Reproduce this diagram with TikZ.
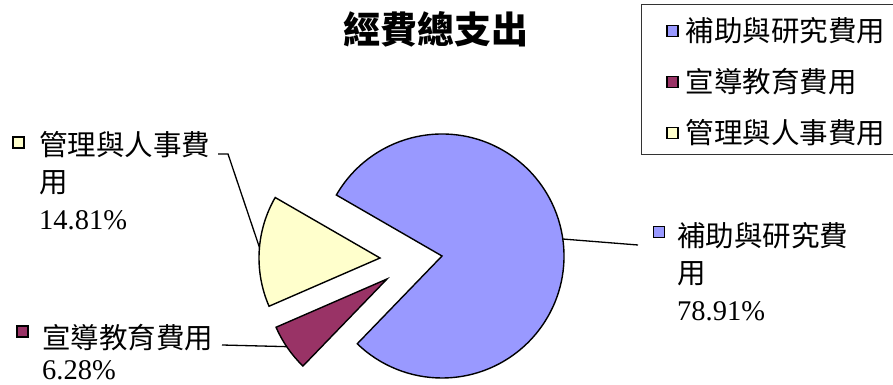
\documentclass[tikz,border=0pt]{standalone}
\usepackage{fontspec}
\setmainfont{Liberation Serif}
\newfontfamily\cjk{Noto Sans CJK TC}
\usetikzlibrary{positioning,calc}
\definecolor{research}{HTML}{9999FF}
\definecolor{promo}{HTML}{993366}
\definecolor{admin}{HTML}{FFFFCC}
\tikzset{
    slice/.style={
        draw=black,
        line width=1.4pt,
        line join=miter,
    },
    key/.style={
        rectangle,
        draw=black,
        line width=1.2pt,
        minimum size=11pt,
        inner sep=0pt,
    },
    keytext/.style={
        font=\cjk\fontsize{28.5}{37}\selectfont,
        inner sep=0pt,
        anchor=west,
    },
    label/.style={
        font=\cjk\fontsize{28.5}{37}\selectfont,
        inner sep=0pt,
        align=left,
        anchor=north west,
    },
    leader/.style={
        draw=black,
        line width=1.3pt,
    },
}

\begin{document}
\begin{tikzpicture}[x=1pt,y=1pt]
    \useasboundingbox (0,0) rectangle (893,385);
    \node [font=\cjk\bfseries\fontsize{37}{40}\selectfont] (title) at (436,356) {經費總支出};
    % slices
    \coordinate (cR) at (442,129);
    \coordinate (cA) at (380,127);
    \coordinate (cP) at (387,106);
    \filldraw [slice,fill=research] (cR) -- ++(150:122) arc [start angle=150,end angle=-134,radius=122] -- cycle;
    \filldraw [slice,fill=promo] (cP) -- ++(226:121) arc [start angle=226,end angle=203.5,radius=121] -- cycle;
    \filldraw [slice,fill=admin] (cA) -- ++(203.5:121) arc [start angle=203.5,end angle=150,radius=121] -- cycle;
    % legend
    \draw [line width=0.9pt,draw=black!80] (641,381) rectangle (900,231);
    \node [key,fill=research] (kR) at (672.5,354) {};
    \node [keytext,right=7pt of kR] (tR) {補助與研究費用};
    \node [key,fill=promo] (kP) at (672.5,303) {};
    \node [keytext,right=7pt of kP] (tP) {宣導教育費用};
    \node [key,fill=admin] (kA) at (672.5,252) {};
    \node [keytext,right=7pt of kA] (tA) {管理與人事費用};
    % data labels
    \node [key,fill=research] (sR) at (659,153) {};
    \node [label] (lblR) at (677,163) {補助與研究費\\用\\{\rmfamily 78.91\%}};
    \node [key,fill=admin] (sA) at (18.5,242.5) {};
    \node [label] (lblA) at (39,254) {管理與人事費\\用\\{\rmfamily 14.81\%}};
    \node [key,fill=promo] (sP) at (22.5,53.5) {};
    \node [label] (lblP) at (42,61) {宣導教育費用\\[-6pt]{\rmfamily 6.28\%}};
    % leaders
    \coordinate (rEdge) at ($(cR)+(8:122)$);
    \coordinate (rTail) at (638,140);
    \coordinate (aEdge) at ($(cA)+(175:121)$);
    \coordinate (aKnee) at (228,231);
    \coordinate (aTail) at (218,231);
    \coordinate (pEdge) at ($(cP)+(214:121)$);
    \coordinate (pTail) at (222,40);
    \draw [leader] (rEdge) -- (rTail);
    \draw [leader] (aTail) -- (aKnee) -- (aEdge);
    \draw [leader] (pTail) -- (pEdge);
\end{tikzpicture}
\end{document}
